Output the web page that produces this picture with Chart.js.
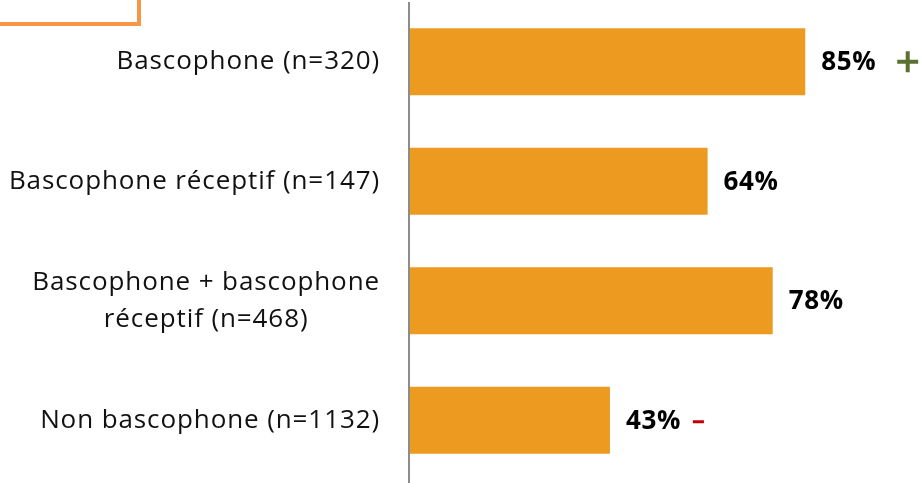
<!DOCTYPE html>
<html>
<head>
<meta charset="utf-8">
<script src="https://cdn.jsdelivr.net/npm/chart.js@4"></script>
<style>
  html, body { margin: 0; padding: 0; background: #ffffff; }
  #wrap { width: 922px; height: 483px; position: relative; }
</style>
</head>
<body>
<div id="wrap"><canvas id="chart" width="922" height="483"></canvas></div>
<script>
const categories = [
  ['Bascophone (n=320)'],
  ['Bascophone réceptif (n=147)'],
  ['Bascophone + bascophone', 'réceptif (n=468)'],
  ['Non bascophone (n=1132)'],
];
const values = [85, 64, 78, 43];
const markers = ['+', '', '', '-'];
const markerColors = ['#5b7132', '', '', '#c00000'];

const BAR_COLOR = '#ec9a20';
const FONT = "'Open Sans', Lato, sans-serif";

const overlay = {
  id: 'overlay',
  afterDatasetsDraw(chart) {
    const { ctx, chartArea } = chart;
    const yScale = chart.scales.y;
    const meta = chart.getDatasetMeta(0);

    ctx.save();

    // orange frame corner (top-left)
    ctx.strokeStyle = '#f79646';
    ctx.lineWidth = 4;
    ctx.strokeRect(-10, -10, 149, 34);

    // axis line
    ctx.strokeStyle = '#8c8c8c';
    ctx.lineWidth = 2;
    ctx.beginPath();
    ctx.moveTo(chartArea.left - 1, chartArea.top);
    ctx.lineTo(chartArea.left - 1, chart.height);
    ctx.stroke();

    // category labels: block right-aligned, lines centered in block
    ctx.font = `26px ${FONT}`;
    ctx.letterSpacing = '0.9px';
    ctx.fillStyle = '#111111';
    ctx.textBaseline = 'middle';
    ctx.textAlign = 'center';
    const lineHeight = 37;
    categories.forEach((lines, i) => {
      const cy = yScale.getPixelForValue(i);
      const blockW = Math.max(...lines.map((l) => ctx.measureText(l).width));
      const cx = chartArea.left - 30 - blockW / 2;
      lines.forEach((line, j) => {
        const y = cy + (j - (lines.length - 1) / 2) * lineHeight;
        ctx.fillText(line, cx, y);
      });
    });

    // value labels + markers
    ctx.textAlign = 'left';
    meta.data.forEach((bar, i) => {
      const text = `${values[i]}%`;
      ctx.font = `bold 26px ${FONT}`;
      ctx.letterSpacing = '0.6px';
      ctx.fillStyle = '#000000';
      const x = bar.x + 16;
      ctx.fillText(text, x, bar.y + 1);
      if (markers[i]) {
        const w = ctx.measureText(text).width;
        ctx.fillStyle = markerColors[i];
        if (markers[i] === '+') {
          ctx.fillRect(x + w + 21, bar.y - 2, 21, 4);
          ctx.fillRect(x + w + 29.5, bar.y - 10.5, 4, 21);
        } else {
          ctx.fillRect(x + w + 12, bar.y, 11, 3);
        }
      }
    });

    ctx.restore();
  },
};

new Chart(document.getElementById('chart'), {
  type: 'bar',
  data: {
    labels: categories,
    datasets: [
      {
        data: values,
        backgroundColor: BAR_COLOR,
        borderWidth: 0,
        categoryPercentage: 1,
        barPercentage: 0.56,
      },
    ],
  },
  options: {
    indexAxis: 'y',
    responsive: false,
    animation: false,
    layout: {
      padding: { left: 410, right: 47, top: 2, bottom: 3 },
    },
    plugins: {
      legend: { display: false },
      tooltip: { enabled: false },
    },
    scales: {
      x: {
        display: false,
        min: 0,
        max: 100,
      },
      y: {
        display: false,
      },
    },
  },
  plugins: [overlay],
});
</script>
</body>
</html>
